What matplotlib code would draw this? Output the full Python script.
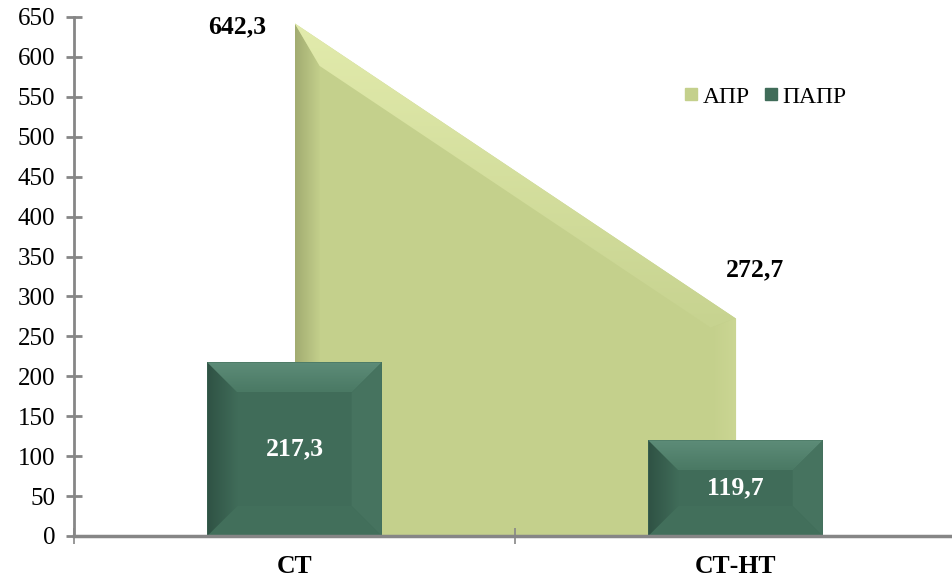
import numpy as np
import matplotlib
matplotlib.use('Agg')
import matplotlib.pyplot as plt
from matplotlib.patches import Polygon
from matplotlib.colors import LinearSegmentedColormap
from matplotlib.lines import Line2D

plt.rcParams['font.family'] = ['Liberation Serif', 'DejaVu Serif']

categories = ['СТ', 'СТ-НТ']
apr = [642.3, 272.7]      # area series
papr = [217.3, 119.7]     # bar series
apr_labels = ['642,3', '272,7']
papr_labels = ['217,3', '119,7']
series_names = ['АПР', 'ПАПР']

area_color = '#C4D08C'
bar_color = '#406C59'
axis_grey = '#868686'

fig = plt.figure(figsize=(9.53, 5.8), dpi=100)
ax = fig.add_axes([0.0777, 0.0759, 0.9223, 0.8948])
ax.set_xlim(-0.5, 1.493)
ax.set_ylim(0, 650)

# px -> data units
px_x = 1 / 441.0
px_y = 650 / 519.0


def grad_fill(poly_pts, c_from, c_to, horizontal=True, z=2):
    poly = Polygon(poly_pts, closed=True, facecolor='none', edgecolor='none', zorder=z)
    ax.add_patch(poly)
    xs = [p[0] for p in poly_pts]
    ys = [p[1] for p in poly_pts]
    cmap = LinearSegmentedColormap.from_list('g', [c_from, c_to])
    g = np.linspace(0, 1, 64)
    g = g[None, :] if horizontal else g[:, None]
    im = ax.imshow(g, cmap=cmap, extent=[min(xs), max(xs), min(ys), max(ys)],
                   origin='lower', aspect='auto', zorder=z, interpolation='bilinear')
    im.set_clip_path(poly)


# ---- area (АПР) with bevel ----
x = [0, 1]
ax.fill_between(x, 0, apr, color=area_color, zorder=1, linewidth=0)
dx = 25 * px_x
off = 26 * px_y
yline = lambda t: apr[0] + (apr[1] - apr[0]) * t
A, B, C, D = (0, 0), (0, apr[0]), (1, apr[1]), (1, 0)
Bi = (dx, yline(dx) - off)
Ci = (1 - dx, yline(1 - dx) - off)
Ai, Di = (dx, 0), (1 - dx, 0)
grad_fill([A, B, Bi, Ai], '#A2AC71', area_color, z=2)
grad_fill([B, C, Ci, Bi], '#C7D390', '#E2EBAC', horizontal=False, z=2)
grad_fill([C, D, Di, Ci], area_color, '#CBD693', z=2)

# ---- bars (ПАПР) with bevel ----
bw = 0.395
ax.bar(x, papr, width=bw, color=bar_color, zorder=3, linewidth=0)
bdx = 30 * px_x
bdy = 30 * px_y
for xi, h in zip(x, papr):
    l, r = xi - bw / 2, xi + bw / 2
    P1, P2, P3, P4 = (l, 0), (l, h), (r, h), (r, 0)
    Q1, Q2, Q3, Q4 = (l + bdx, bdy), (l + bdx, h - bdy), (r - bdx, h - bdy), (r - bdx, bdy)
    grad_fill([P1, P2, Q2, Q1], '#2F5244', bar_color, z=4)
    grad_fill([P2, P3, Q3, Q2], '#4A7964', '#5D8C78', horizontal=False, z=4)
    ax.add_patch(Polygon([P3, P4, Q4, Q3], closed=True, facecolor='#46735F',
                         edgecolor='none', zorder=4))
    ax.add_patch(Polygon([P4, P1, Q1, Q4], closed=True, facecolor='#426F5B',
                         edgecolor='none', zorder=4))

# ---- labels ----
ax.annotate(apr_labels[0], (x[0], apr[0]), xytext=(-41, -3), textcoords='offset points',
            ha='center', va='center', fontsize=18.5, fontweight='bold', zorder=6)
ax.annotate(apr_labels[1], (x[1], apr[1]), xytext=(14, 35), textcoords='offset points',
            ha='center', va='center', fontsize=18.5, fontweight='bold', zorder=6)
for xi, h, lab in zip(x, papr, papr_labels):
    ax.text(xi, h / 2, lab, ha='center', va='center', color='white',
            fontsize=18.5, fontweight='bold', zorder=6)

# ---- axes styling ----
for s in ['top', 'right']:
    ax.spines[s].set_visible(False)
ax.spines['left'].set_color(axis_grey)
ax.spines['left'].set_linewidth(2)
ax.spines['bottom'].set_color(axis_grey)
ax.spines['bottom'].set_linewidth(2.5)
ax.spines['left'].set_zorder(7)
ax.spines['bottom'].set_zorder(7)

ax.set_yticks(np.arange(0, 651, 50))
ax.tick_params(axis='y', direction='inout', length=11, width=2, color=axis_grey,
               labelsize=18, pad=8)
ax.set_xticks(x)
ax.set_xticklabels(categories, fontsize=18.5, fontweight='bold')
ax.tick_params(axis='x', which='major', length=0, pad=14)
ax.set_xticks([-0.5, 0.5], minor=True)
ax.tick_params(axis='x', which='minor', direction='inout', length=12, width=1.2,
               color=axis_grey)

handles = [Line2D([], [], marker='s', linestyle='', markersize=8, color=area_color),
           Line2D([], [], marker='s', linestyle='', markersize=8, color=bar_color)]
fig.legend(handles, series_names, loc='center', bbox_to_anchor=(0.803, 0.833),
           ncol=2, frameon=False, fontsize=17, handlelength=0.6, handletextpad=0.2,
           columnspacing=0.6)

fig.savefig('out.png', dpi=100)
